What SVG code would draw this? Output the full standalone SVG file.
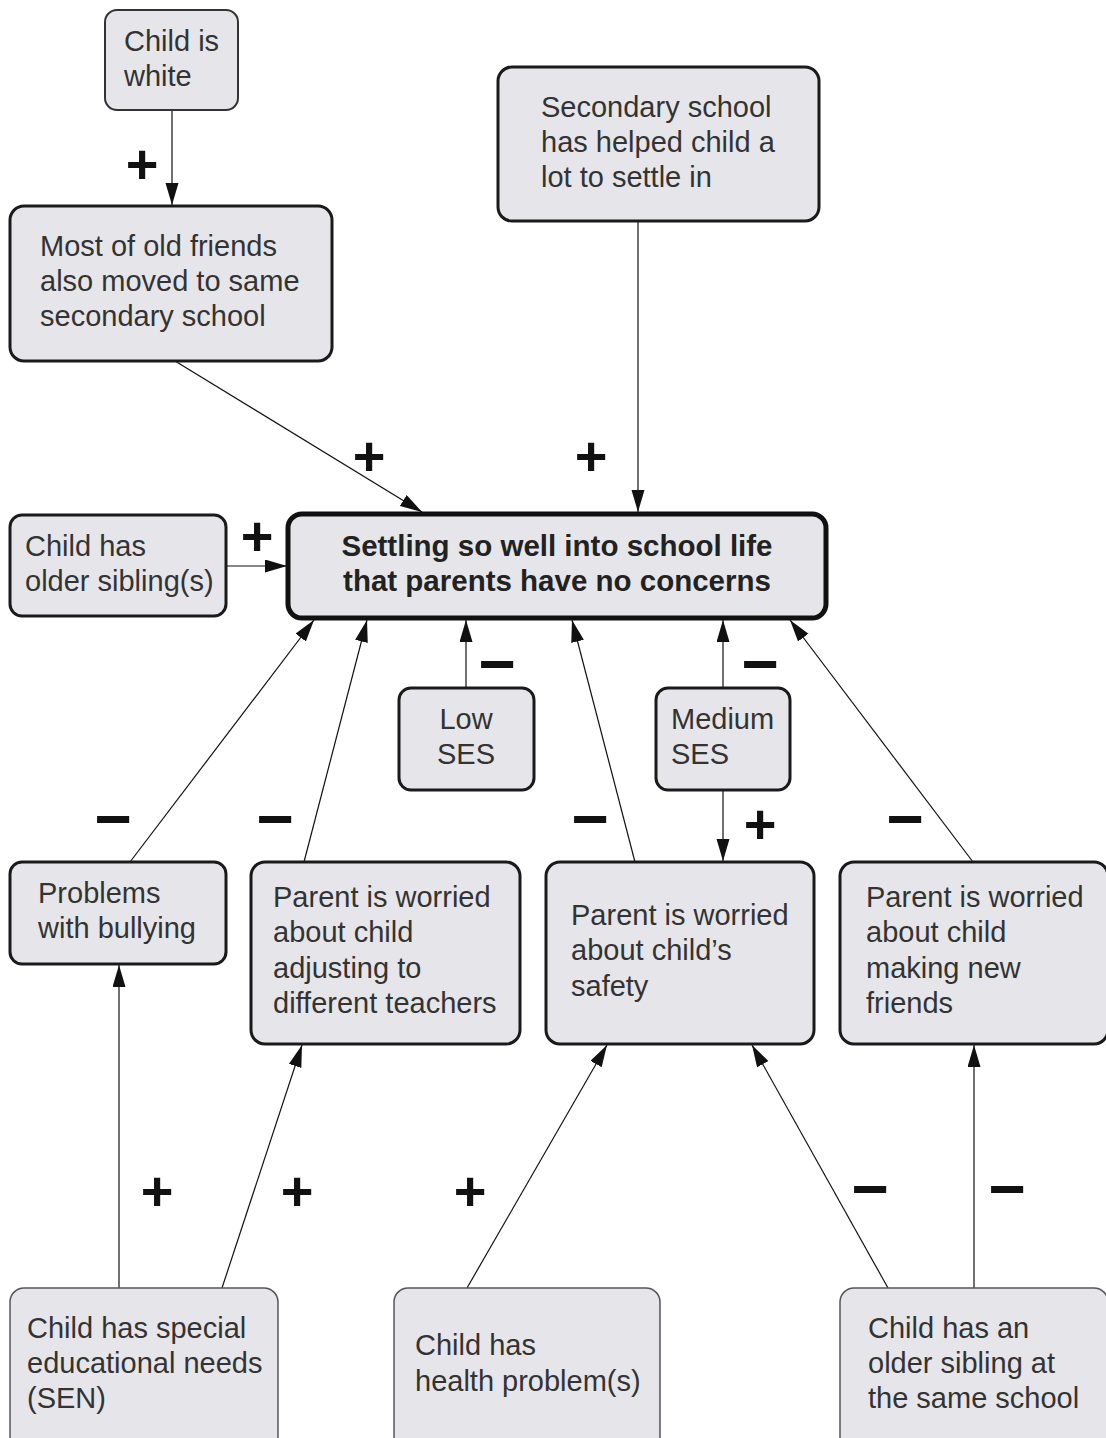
<svg xmlns="http://www.w3.org/2000/svg" width="1106" height="1438" viewBox="0 0 1106 1438">
<defs>
<marker id="arr" markerUnits="userSpaceOnUse" markerWidth="24" markerHeight="14" refX="22" refY="6.5" orient="auto">
<path d="M0,0 L22,6.5 L0,13 z" fill="#111"/>
</marker>
<style>
rect{fill:#e6e6ea;stroke:#1a1a1a;stroke-width:3}
.thin{stroke:#555;stroke-width:1.5}
.med{stroke:#333;stroke-width:2}
.main{stroke:#111;stroke-width:5}
text{font-family:"Liberation Sans",Arial,sans-serif;font-size:29px;fill:#333}
.b{font-weight:bold;font-size:29.5px;fill:#222}
.s{font-weight:bold;font-size:56px;fill:#111}
.m{font-weight:bold;font-size:64px;fill:#111}
#connectors line{stroke:#111;stroke-width:1.2;marker-end:url(#arr)}
</style>
</defs>
<rect x="0" y="0" width="1106" height="1438" style="fill:#fff;stroke:none"/>

<g id="connectors">
<line x1="172" y1="110" x2="172" y2="205"/>
<line x1="175" y1="361" x2="422" y2="512"/>
<line x1="638" y1="221" x2="638" y2="512"/>
<line x1="226" y1="566" x2="287" y2="566"/>
<line x1="130" y1="862" x2="314" y2="620"/>
<line x1="304" y1="862" x2="367" y2="620"/>
<line x1="466" y1="688" x2="466" y2="620"/>
<line x1="635" y1="862" x2="572" y2="620"/>
<line x1="723" y1="688" x2="723" y2="620"/>
<line x1="723" y1="790" x2="723" y2="861"/>
<line x1="973" y1="862" x2="790" y2="620"/>
<line x1="119" y1="1288" x2="119" y2="965"/>
<line x1="222" y1="1288" x2="302" y2="1045"/>
<line x1="467" y1="1288" x2="607" y2="1045"/>
<line x1="888" y1="1288" x2="752" y2="1045"/>
<line x1="974" y1="1288" x2="974" y2="1045"/>
<g>
<text class="s" x="142" y="183" text-anchor="middle">+</text>
<text class="s" x="369" y="475" text-anchor="middle">+</text>
<text class="s" x="591" y="475" text-anchor="middle">+</text>
<text class="s" x="257" y="555" text-anchor="middle">+</text>
<text class="m" x="113" y="841" text-anchor="middle">−</text>
<text class="m" x="275" y="841" text-anchor="middle">−</text>
<text class="m" x="497" y="686" text-anchor="middle">−</text>
<text class="m" x="590" y="841" text-anchor="middle">−</text>
<text class="m" x="760" y="686" text-anchor="middle">−</text>
<text class="s" x="760" y="843" text-anchor="middle">+</text>
<text class="m" x="905" y="841" text-anchor="middle">−</text>
<text class="s" x="157" y="1210" text-anchor="middle">+</text>
<text class="s" x="297" y="1210" text-anchor="middle">+</text>
<text class="s" x="470" y="1210" text-anchor="middle">+</text>
<text class="m" x="870" y="1211" text-anchor="middle">−</text>
<text class="m" x="1007" y="1211" text-anchor="middle">−</text>
</g>
</g>

<g id="n-white">
<rect class="med" x="105" y="10" width="133" height="100" rx="12"/>
<text x="124" y="51">Child is</text>
<text x="124" y="86">white</text>
</g>
<g id="n-friends">
<rect x="10" y="206" width="322" height="155" rx="14"/>
<text x="40" y="256">Most of old friends</text>
<text x="40" y="291">also moved to same</text>
<text x="40" y="326">secondary school</text>
</g>
<g id="n-secondary">
<rect x="498" y="67" width="321" height="154" rx="14"/>
<text x="541" y="117">Secondary school</text>
<text x="541" y="152">has helped child a</text>
<text x="541" y="187">lot to settle in</text>
</g>
<g id="n-central">
<rect class="main" x="288" y="514" width="538" height="104" rx="14"/>
<text class="b" x="557" y="556" text-anchor="middle">Settling so well into school life</text>
<text class="b" x="557" y="591" text-anchor="middle">that parents have no concerns</text>
</g>
<g id="n-oldersib">
<rect x="10" y="515" width="216" height="101" rx="12"/>
<text x="25" y="556">Child has</text>
<text x="25" y="591">older sibling(s)</text>
</g>
<g id="n-lowses">
<rect x="399" y="688" width="135" height="102" rx="12"/>
<text x="466" y="729" text-anchor="middle">Low</text>
<text x="466" y="764" text-anchor="middle">SES</text>
</g>
<g id="n-medses">
<rect x="656" y="688" width="134" height="102" rx="12"/>
<text x="671" y="729">Medium</text>
<text x="671" y="764">SES</text>
</g>
<g id="n-bullying">
<rect x="10" y="862" width="216" height="102" rx="12"/>
<text x="38" y="903">Problems</text>
<text x="38" y="938">with bullying</text>
</g>
<g id="n-teachers">
<rect x="251" y="862" width="269" height="182" rx="14"/>
<text x="273" y="907">Parent is worried</text>
<text x="273" y="942">about child</text>
<text x="273" y="978">adjusting to</text>
<text x="273" y="1013">different teachers</text>
</g>
<g id="n-safety">
<rect x="546" y="862" width="268" height="182" rx="14"/>
<text x="571" y="925">Parent is worried</text>
<text x="571" y="960">about child’s</text>
<text x="571" y="996">safety</text>
</g>
<g id="n-newfriends">
<rect x="840" y="862" width="268" height="182" rx="14"/>
<text x="866" y="907">Parent is worried</text>
<text x="866" y="942">about child</text>
<text x="866" y="978">making new</text>
<text x="866" y="1013">friends</text>
</g>
<g id="n-sen">
<rect class="thin" x="10" y="1288" width="268" height="170" rx="14"/>
<text x="27" y="1338">Child has special</text>
<text x="27" y="1373">educational needs</text>
<text x="27" y="1408">(SEN)</text>
</g>
<g id="n-health">
<rect class="thin" x="394" y="1288" width="266" height="170" rx="14"/>
<text x="415" y="1355">Child has</text>
<text x="415" y="1391">health problem(s)</text>
</g>
<g id="n-samesib">
<rect class="thin" x="840" y="1288" width="268" height="170" rx="14"/>
<text x="868" y="1338">Child has an</text>
<text x="868" y="1373">older sibling at</text>
<text x="868" y="1408">the same school</text>
</g>
</svg>
